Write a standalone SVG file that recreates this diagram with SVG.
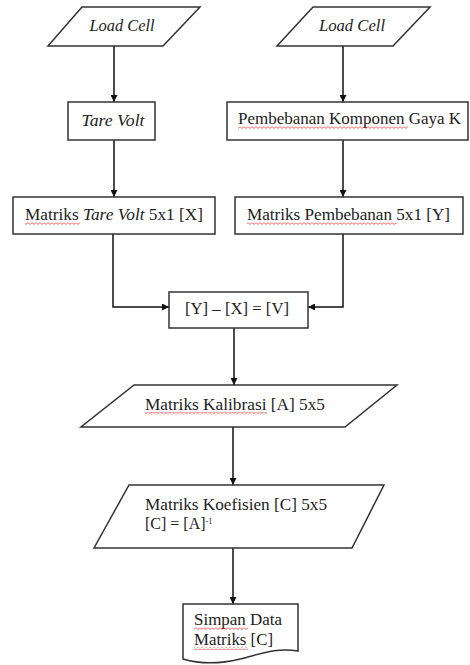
<svg xmlns="http://www.w3.org/2000/svg" width="470" height="665" viewBox="0 0 470 665">
<style>
.s{fill:#fff;stroke:#333;stroke-width:1.5}
.t{font-family:"Liberation Serif","DejaVu Serif","Times New Roman",serif;font-size:16px;fill:#222}
.i{font-style:italic}
.c{fill:none;stroke:#111;stroke-width:1.5}
.sq{fill:url(#wave)}
</style>
<defs>
<marker id="ah" viewBox="0 0 10 10" refX="10" refY="5" markerWidth="7" markerHeight="7" orient="auto" markerUnits="userSpaceOnUse">
<path d="M0,0 L10,5 L0,10 Z" fill="#111"/>
</marker>
<pattern id="wave" width="4" height="3" patternUnits="userSpaceOnUse">
<polyline points="0,0.5 2,2.5 4,0.5" fill="none" stroke="#e02020" stroke-width="0.8"/>
</pattern>
</defs>
<rect width="470" height="665" fill="#fff"/>

<g id="connectors">
<path class="c" d="M114,46 V102" marker-end="url(#ah)"/>
<path class="c" d="M343,46 V102" marker-end="url(#ah)"/>
<path class="c" d="M114,140 V197" marker-end="url(#ah)"/>
<path class="c" d="M343,140 V197" marker-end="url(#ah)"/>
<path class="c" d="M113,234 V307 H169" marker-end="url(#ah)"/>
<path class="c" d="M343,234 V307 H308" marker-end="url(#ah)"/>
<path class="c" d="M234,328 V385" marker-end="url(#ah)"/>
<path class="c" d="M233,427 V485" marker-end="url(#ah)"/>
<path class="c" d="M233,548 V604" marker-end="url(#ah)"/>
</g>

<g id="loadcell1">
<polygon class="s" points="82,7 200,7 163,46 48,46"/>
<text class="t i" x="122" y="31" text-anchor="middle" textLength="65" lengthAdjust="spacingAndGlyphs">Load Cell</text>
</g>

<g id="loadcell2">
<polygon class="s" points="313,7 430,7 393,46 277,46"/>
<text class="t i" x="352" y="31" text-anchor="middle" textLength="66" lengthAdjust="spacingAndGlyphs">Load Cell</text>
</g>

<g id="tarevolt">
<rect class="s" x="68" y="102" width="87" height="38"/>
<text class="t i" x="113" y="126" text-anchor="middle" textLength="63" lengthAdjust="spacingAndGlyphs">Tare Volt</text>
</g>

<g id="pembebanan">
<rect class="s" x="227" y="102" width="241" height="38"/>
<text class="t" x="238" y="124" textLength="223" lengthAdjust="spacingAndGlyphs">Pembebanan Komponen Gaya K</text>
<rect class="sq" x="238" y="126" width="170" height="3"/>
</g>

<g id="matrikstare">
<rect class="s" x="13" y="197" width="202" height="37"/>
<text class="t" x="25" y="220" textLength="178" lengthAdjust="spacingAndGlyphs">Matriks <tspan class="i">Tare Volt</tspan> 5x1 [X]</text>
<rect class="sq" x="25" y="222" width="55" height="3"/>
</g>

<g id="matrikspembebanan">
<rect class="s" x="235" y="197" width="228" height="37"/>
<text class="t" x="247" y="220" textLength="203" lengthAdjust="spacingAndGlyphs">Matriks Pembebanan 5x1 [Y]</text>
<rect class="sq" x="247" y="222" width="150" height="3"/>
</g>

<g id="selisih">
<rect class="s" x="169" y="292" width="139" height="36"/>
<text class="t" x="237" y="314" text-anchor="middle" textLength="104" lengthAdjust="spacingAndGlyphs">[Y] – [X] = [V]</text>
</g>

<g id="kalibrasi">
<polygon class="s" points="134,385 397,385 345,427 81,427"/>
<text class="t" x="145" y="410" textLength="180" lengthAdjust="spacingAndGlyphs">Matriks Kalibrasi [A] 5x5</text>
<rect class="sq" x="145" y="412" width="122" height="3"/>
</g>

<g id="koefisien">
<polygon class="s" points="129,485 384,485 352,548 94,548"/>
<text class="t" x="145" y="510" textLength="182" lengthAdjust="spacingAndGlyphs">Matriks Koefisien [C] 5x5</text>
<text class="t" x="145" y="529">[C] = [A]<tspan font-size="8" dy="-5">-1</tspan></text>
</g>

<g id="simpan">
<path class="s" d="M183,604 H298 V651 C275,647 258,655 240,659 C220,664 200,664 183,659 Z"/>
<text class="t" x="194" y="625" textLength="88" lengthAdjust="spacingAndGlyphs">Simpan Data</text>
<text class="t" x="194" y="645" textLength="79" lengthAdjust="spacingAndGlyphs">Matriks [C]</text>
<rect class="sq" x="194" y="627" width="54" height="3"/>
<rect class="sq" x="194" y="647" width="54" height="3"/>
</g>
</svg>
